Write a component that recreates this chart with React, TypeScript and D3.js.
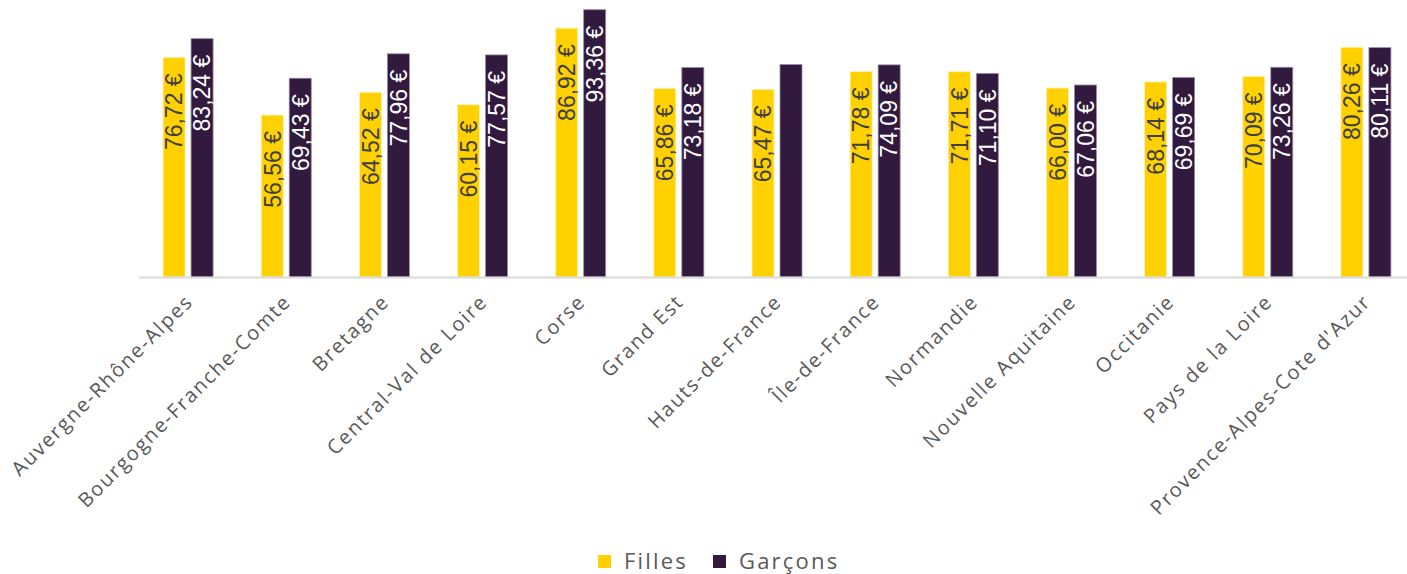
import { useEffect, useRef } from "react";
import * as d3 from "d3";

const regions = [
  "Auvergne-Rhône-Alpes",
  "Bourgogne-Franche-Comte",
  "Bretagne",
  "Central-Val de Loire",
  "Corse",
  "Grand Est",
  "Hauts-de-France",
  "Île-de-France",
  "Normandie",
  "Nouvelle Aquitaine",
  "Occitanie",
  "Pays de la Loire",
  "Provence-Alpes-Cote d'Azur",
];
const filles = [76.72, 56.56, 64.52, 60.15, 86.92, 65.86, 65.47, 71.78, 71.71, 66.0, 68.14, 70.09, 80.26];
const garcons = [83.24, 69.43, 77.96, 77.57, 93.36, 73.18, 74.2, 74.09, 71.1, 67.06, 69.69, 73.26, 80.11];
// the reference shows no label on the Hauts-de-France boys bar
const garconsLabelled = [true, true, true, true, true, true, false, true, true, true, true, true, true];
const seriesNames = ["Filles", "Garçons"];

const colors = { filles: "#FFD100", garcons: "#321A3E" };

export default function App() {
  const ref = useRef<SVGSVGElement | null>(null);
  const width = 1407;
  const height = 574;

  useEffect(() => {
    document.body.style.margin = "0";
    const svg = d3.select(ref.current);
    svg.selectAll("*").remove();

    const baseline = 277;
    const x = d3.scaleBand<string>().domain(regions).range([139, 1415]);
    const y = d3.scaleLinear().domain([0, 100]).range([baseline, -9.3]);
    const barW = 22;
    const gap = 6;
    const fmt = (v: number) => v.toFixed(2).replace(".", ",") + " €";

    const series = [
      { key: "filles", values: filles, color: colors.filles, text: "#404040", off: -gap / 2 - barW, show: filles.map(() => true) },
      { key: "garcons", values: garcons, color: colors.garcons, text: "#ffffff", off: gap / 2, show: garconsLabelled },
    ];

    series.forEach((s) => {
      const g = svg.append("g");
      const cx = (i: number) => x(regions[i])! + x.bandwidth() / 2 + s.off;
      g.selectAll("rect")
        .data(s.values)
        .enter()
        .append("rect")
        .attr("x", (d, i) => cx(i))
        .attr("y", (d) => y(d))
        .attr("width", barW)
        .attr("height", (d) => baseline - y(d))
        .attr("fill", s.color)
        .attr("stroke", s.key === "filles" ? "#fff3b0" : "#9a8aa3")
        .attr("stroke-width", 0.8);

      g.selectAll("text")
        .data(s.values.map((v, i) => ({ v, i })).filter((d) => s.show[d.i]))
        .enter()
        .append("text")
        .attr("transform", (d) => `translate(${cx(d.i) + barW / 2},${y(d.v) + 16}) rotate(-90)`)
        .attr("text-anchor", "end")
        .attr("dy", "0.36em")
        .attr("fill", s.text)
        .attr("font-family", "Liberation Sans, Arial, sans-serif")
        .attr("font-size", "23px")
        .text((d) => fmt(d.v));
    });

    // axis line
    svg.append("line")
      .attr("x1", 139)
      .attr("x2", 1415)
      .attr("y1", baseline + 0.5)
      .attr("y2", baseline + 0.5)
      .attr("stroke", "#d9d9d9")
      .attr("stroke-width", 2);

    // category labels
    svg.append("g")
      .selectAll("text")
      .data(regions)
      .enter()
      .append("text")
      .attr("transform", (d) => `translate(${x(d)! + x.bandwidth() / 2 + 6},${baseline + 26}) rotate(-45)`)
      .attr("text-anchor", "end")
      .attr("fill", "#595959")
      .attr("font-family", "Open Sans, sans-serif")
      .attr("font-size", "20px")
      .attr("letter-spacing", "1.7px")
      .text((d) => d);

    // legend
    const legend = svg.append("g");
    const legendX = [598, 713];
    seriesNames.forEach((name, i) => {
      legend.append("rect")
        .attr("x", legendX[i])
        .attr("y", 555)
        .attr("width", 13)
        .attr("height", 13)
        .attr("fill", i === 0 ? colors.filles : colors.garcons);
      legend.append("text")
        .attr("x", legendX[i] + 26)
        .attr("y", 569)
        .attr("fill", "#595959")
        .attr("font-family", "Open Sans, sans-serif")
        .attr("font-size", "22px")
        .attr("letter-spacing", "2.2px")
        .text(name);
    });
  }, []);

  return <svg ref={ref} width={width} height={height} style={{ display: "block", background: "#fff" }}></svg>;
}
